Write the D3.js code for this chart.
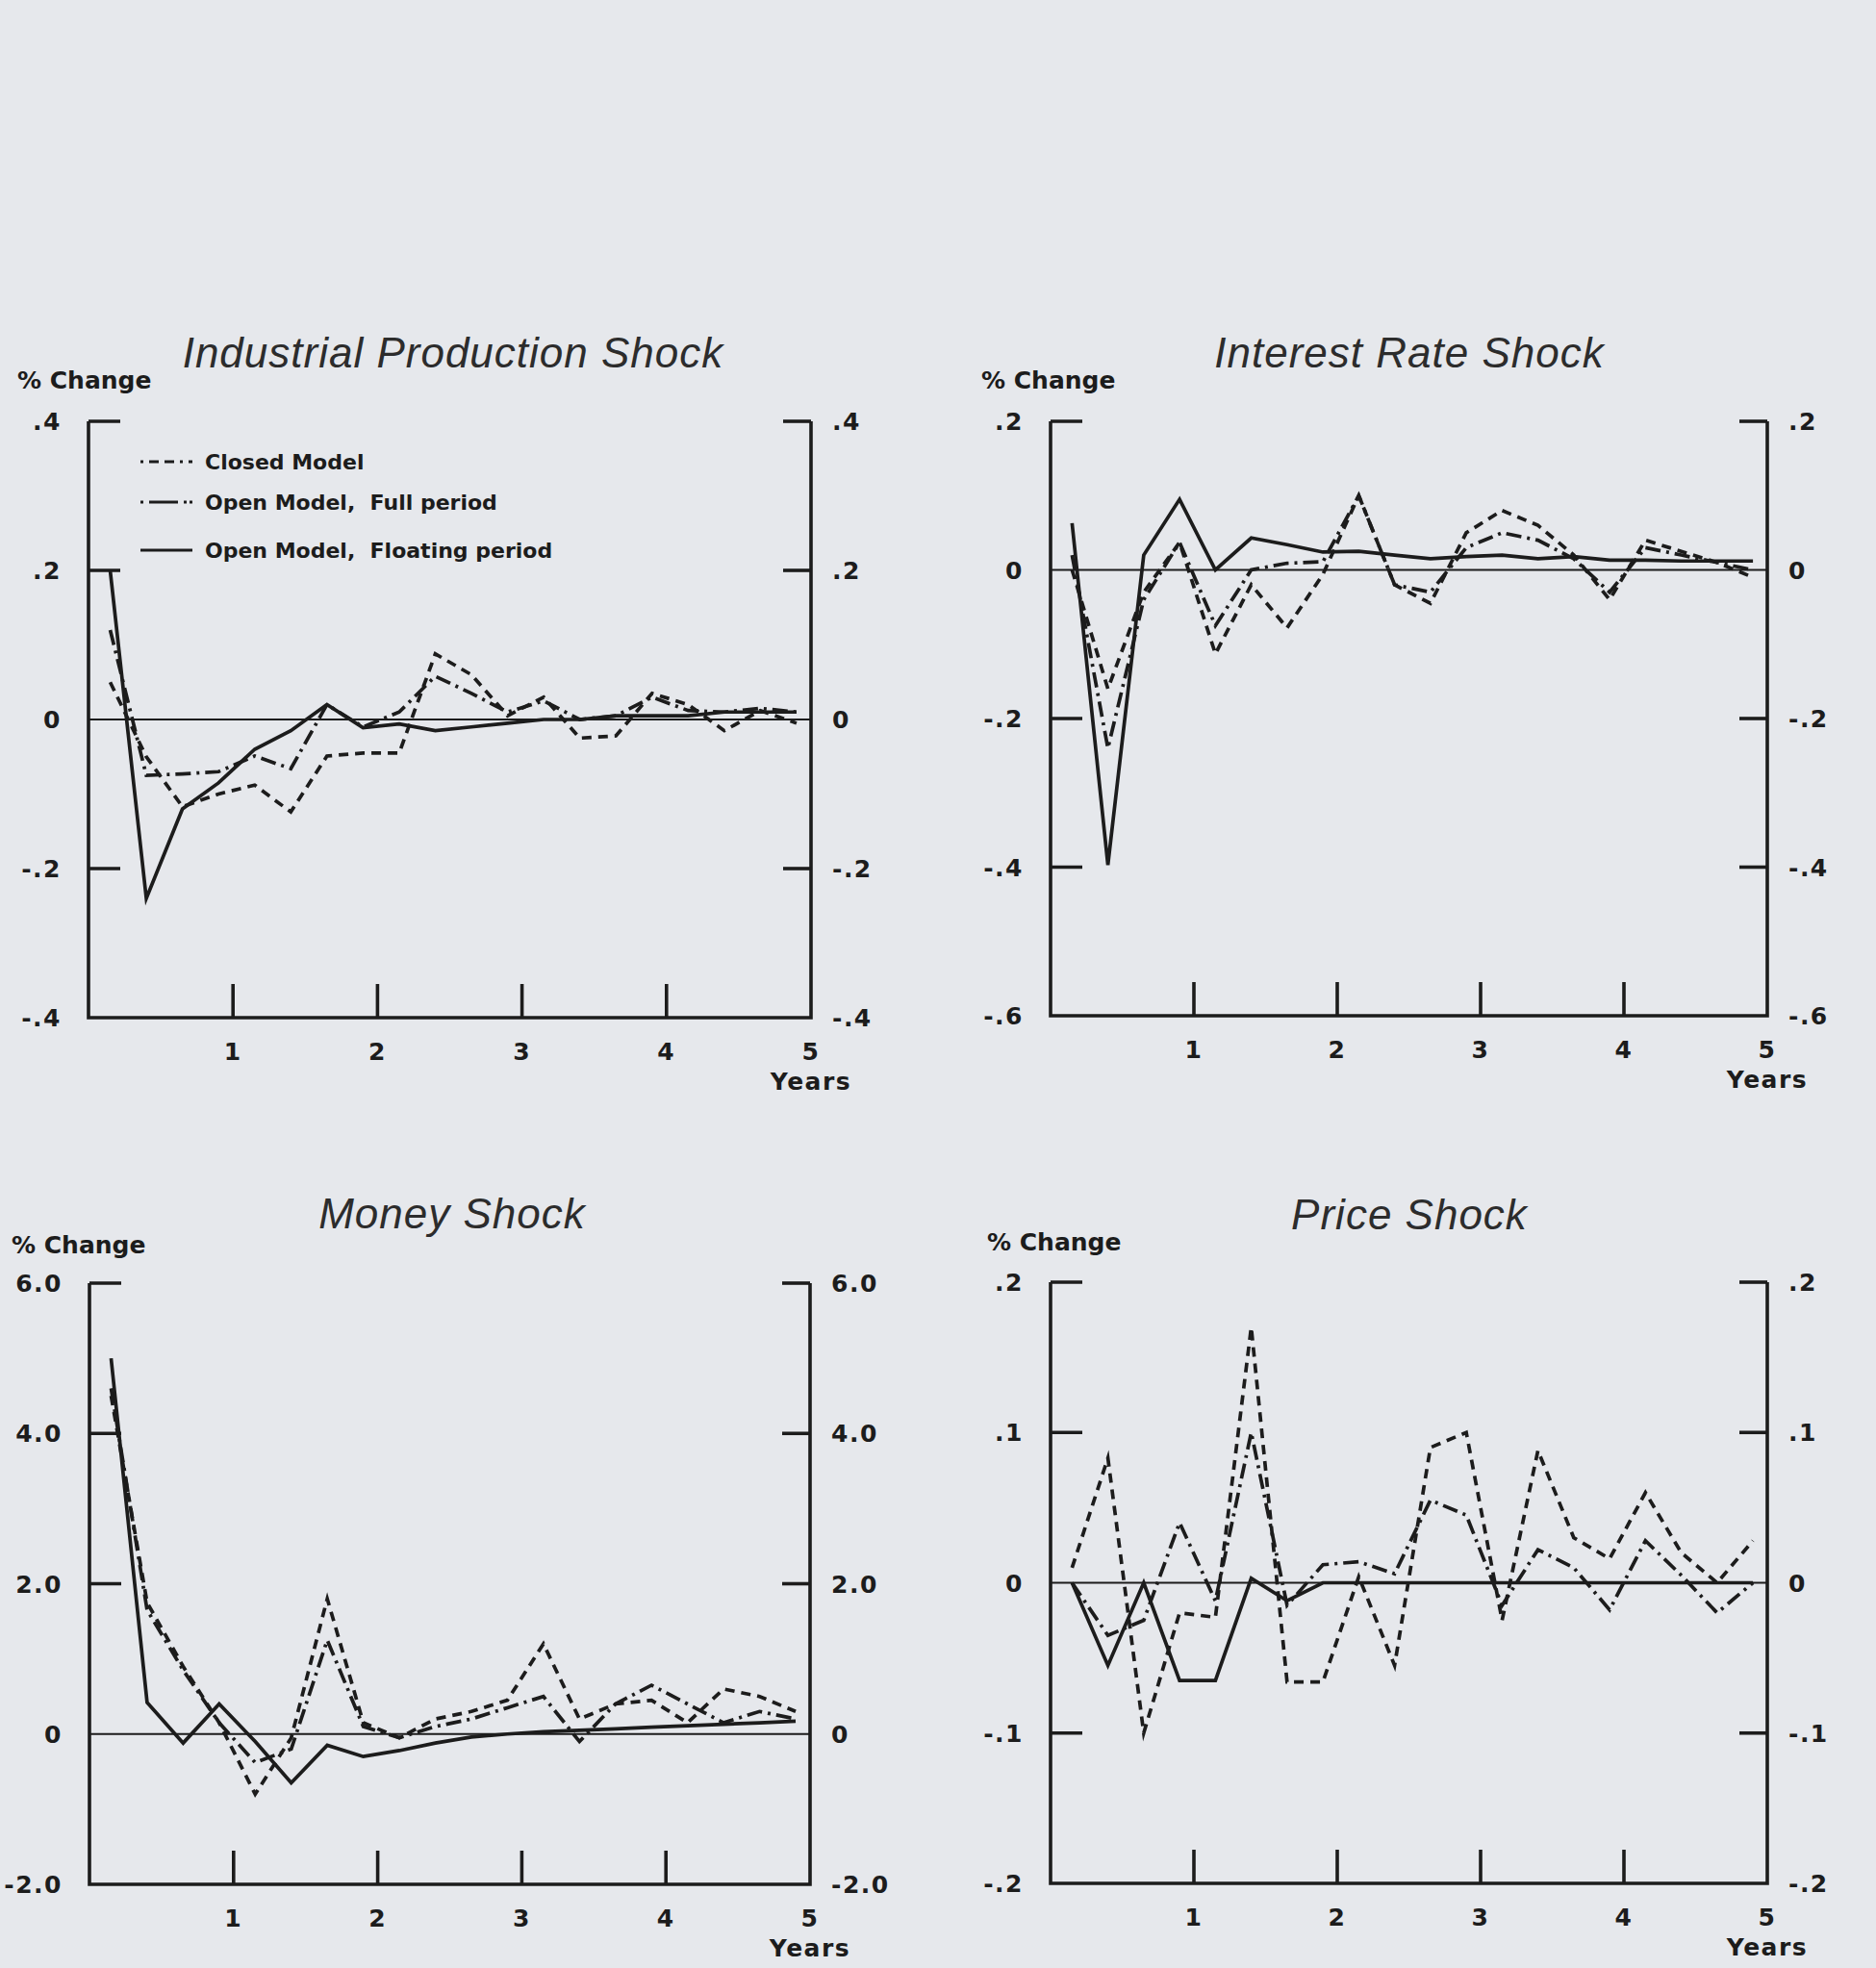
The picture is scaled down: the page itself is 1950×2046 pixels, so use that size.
<!DOCTYPE html>
<html>
<head>
<meta charset="utf-8">
<script src="https://cdn.jsdelivr.net/npm/d3@7"></script>
<style>
  html, body { margin: 0; padding: 0; background: #e6e8ec; }
  svg { display: block; }
  .tick-label { font-family: "DejaVu Sans", sans-serif; font-weight: bold; font-size: 25px; fill: #1c1c1c; letter-spacing: 1.5px; }
  .pct { font-family: "DejaVu Sans", sans-serif; font-weight: bold; font-size: 25px; fill: #1c1c1c; }
  .legend { font-family: "DejaVu Sans", sans-serif; font-weight: bold; font-size: 22px; fill: #1c1c1c; white-space: pre; }
  .title { font-family: "Liberation Sans", Arial, sans-serif; font-style: italic; font-size: 44px; fill: #2c2c2c; letter-spacing: 1px; }
</style>
</head>
<body>
<div id="chart"></div>
<script>
// quarters after the shock, in years
var quarters = [0.15, 0.40, 0.65, 0.90, 1.15, 1.40, 1.65, 1.90, 2.15, 2.40, 2.65, 2.90, 3.15, 3.40, 3.65, 3.90, 4.15, 4.40, 4.65, 4.90];
var yearTicks = [1, 2, 3, 4, 5];
var yearLabels = ["1", "2", "3", "4", "5"];
var legendLabels = ["Closed Model", "Open Model,  Full period", "Open Model,  Floating period"];

// Industrial Production Shock
var ipClosed = [0.05, -0.05, -0.117, -0.10, -0.088, -0.124, -0.049, -0.045, -0.045, 0.088, 0.06, 0.005, 0.03, -0.025, -0.022, 0.035, 0.02, -0.015, 0.012, -0.005];
var ipFull = [0.12, -0.075, -0.073, -0.07, -0.049, -0.066, 0.02, -0.01, 0.01, 0.058, 0.035, 0.01, 0.025, 0.0, 0.005, 0.03, 0.012, 0.01, 0.015, 0.01];
var ipFloat = [0.2, -0.24, -0.12, -0.085, -0.04, -0.015, 0.02, -0.011, -0.006, -0.015, -0.01, -0.005, 0.0, 0.0, 0.005, 0.005, 0.005, 0.01, 0.01, 0.01];
var ipTicks = [0.4, 0.2, 0, -0.2, -0.4];
var ipLabels = [".4", ".2", "0", "-.2", "-.4"];

// Interest Rate Shock
var irClosed = [0.0, -0.16, -0.03, 0.037, -0.113, -0.02, -0.078, -0.006, 0.10, -0.02, -0.045, 0.05, 0.08, 0.06, 0.02, -0.04, 0.04, 0.025, 0.01, -0.01];
var irFull = [0.02, -0.24, -0.04, 0.037, -0.075, 0.0, 0.009, 0.011, 0.10, -0.02, -0.03, 0.03, 0.05, 0.04, 0.015, -0.03, 0.03, 0.02, 0.01, 0.0];
var irFloat = [0.063, -0.397, 0.02, 0.095, 0.0, 0.043, 0.034, 0.024, 0.025, 0.02, 0.015, 0.018, 0.02, 0.015, 0.018, 0.013, 0.013, 0.012, 0.012, 0.012];
var irTicks = [0.2, 0, -0.2, -0.4, -0.6];
var irLabels = [".2", "0", "-.2", "-.4", "-.6"];

// Money Shock
var msClosed = [4.5, 1.75, 0.9, 0.15, -0.8, -0.05, 1.8, 0.15, -0.05, 0.2, 0.3, 0.45, 1.2, 0.2, 0.4, 0.45, 0.15, 0.6, 0.5, 0.3];
var msFull = [4.6, 1.65, 0.85, 0.15, -0.38, -0.2, 1.25, 0.1, -0.05, 0.1, 0.2, 0.35, 0.5, -0.1, 0.4, 0.65, 0.4, 0.15, 0.3, 0.2];
var msFloat = [5.0, 0.42, -0.12, 0.40, -0.10, -0.65, -0.15, -0.30, -0.22, -0.12, -0.04, 0.0, 0.03, 0.05, 0.07, 0.09, 0.11, 0.13, 0.15, 0.17];
var msTicks = [6, 4, 2, 0, -2];
var msLabels = ["6.0", "4.0", "2.0", "0", "-2.0"];

// Price Shock
var psClosed = [0.01, 0.083, -0.10, -0.02, -0.023, 0.17, -0.066, -0.066, 0.004, -0.055, 0.09, 0.10, -0.025, 0.088, 0.03, 0.016, 0.06, 0.02, 0.0, 0.028];
var psFull = [0.0, -0.035, -0.025, 0.04, -0.012, 0.10, -0.015, 0.012, 0.014, 0.006, 0.055, 0.045, -0.015, 0.022, 0.01, -0.018, 0.028, 0.005, -0.02, 0.0];
var psFloat = [0.0, -0.055, 0.0, -0.065, -0.065, 0.003, -0.012, 0.0, 0.0, 0.0, 0.0, 0.0, 0.0, 0.0, 0.0, 0.0, 0.0, 0.0, 0.0, 0.0];
var psTicks = [0.2, 0.1, 0, -0.1, -0.2];
var psLabels = [".2", ".1", "0", "-.1", "-.2"];

var width = 1950, height = 2046;
var dashes = ["10,7", "16,6,3,6", null];
var ink = "#1c1c1c";

var panels = [
  {title: "Industrial Production Shock", tx: 471, ty: 382, px: 18, py: 404, x0: 92, x1: 843, yTop: 438, yBot: 1058,
    ticks: ipTicks, labels: ipLabels, series: [ipClosed, ipFull, ipFloat], legend: true},
  {title: "Interest Rate Shock", tx: 1465, ty: 382, px: 1020, py: 404, x0: 1092, x1: 1837, yTop: 438, yBot: 1056,
    ticks: irTicks, labels: irLabels, series: [irClosed, irFull, irFloat], legend: false},
  {title: "Money Shock", tx: 470, ty: 1277, px: 12, py: 1303, x0: 93, x1: 842, yTop: 1334, yBot: 1959,
    ticks: msTicks, labels: msLabels, series: [msClosed, msFull, msFloat], legend: false},
  {title: "Price Shock", tx: 1465, ty: 1278, px: 1026, py: 1300, x0: 1092, x1: 1837, yTop: 1333, yBot: 1958,
    ticks: psTicks, labels: psLabels, series: [psClosed, psFull, psFloat], legend: false}
];

var svg = d3.select("#chart").append("svg").attr("width", width).attr("height", height);
svg.append("rect").attr("width", width).attr("height", height).attr("fill", "#e6e8ec");

panels.forEach(function(p) {
  var g = svg.append("g");
  var x = d3.scaleLinear().domain([0, 5]).range([p.x0, p.x1]);
  var y = d3.scaleLinear().domain([d3.min(p.ticks), d3.max(p.ticks)]).range([p.yBot, p.yTop]);
  var bottom = d3.min(p.ticks);

  g.append("text").attr("class", "title").attr("x", p.tx).attr("y", p.ty).attr("text-anchor", "middle").text(p.title);
  g.append("text").attr("class", "pct").attr("x", p.px).attr("y", p.py).text("% Change");

  // zero line
  g.append("line").attr("x1", x(0)).attr("x2", x(5)).attr("y1", y(0)).attr("y2", y(0))
    .attr("stroke", ink).attr("stroke-width", 2);

  // series
  var line = d3.line().x(function(d, i) { return x(quarters[i]); }).y(function(d) { return y(d); });
  p.series.forEach(function(s, i) {
    g.append("path").datum(s).attr("d", line).attr("fill", "none").attr("stroke", ink)
      .attr("stroke-width", 3.7).attr("stroke-linejoin", "miter").attr("stroke-miterlimit", 6)
      .attr("stroke-dasharray", dashes[i]);
  });

  // frame: left, bottom, right
  g.append("path").attr("d", "M" + p.x0 + "," + p.yTop + "V" + p.yBot + "H" + p.x1 + "V" + p.yTop)
    .attr("fill", "none").attr("stroke", ink).attr("stroke-width", 3.6);

  // inward value ticks
  var inner = p.ticks.filter(function(v) { return v !== 0 && v !== bottom; });
  g.selectAll("line.lt").data(inner).enter().append("line").attr("class", "lt")
    .attr("x1", p.x0).attr("x2", p.x0 + 33).attr("y1", y).attr("y2", y)
    .attr("stroke", ink).attr("stroke-width", 3.6);
  g.selectAll("line.rt").data(inner).enter().append("line").attr("class", "rt")
    .attr("x1", p.x1 - 29).attr("x2", p.x1).attr("y1", y).attr("y2", y)
    .attr("stroke", ink).attr("stroke-width", 3.6);

  // value labels both sides
  g.selectAll("text.ll").data(p.ticks).enter().append("text").attr("class", "tick-label ll")
    .attr("x", p.x0 - 28).attr("y", y).attr("dy", "0.36em").attr("text-anchor", "end")
    .text(function(d, i) { return p.labels[i]; });
  g.selectAll("text.rl").data(p.ticks).enter().append("text").attr("class", "tick-label rl")
    .attr("x", p.x1 + 22).attr("y", y).attr("dy", "0.36em").attr("text-anchor", "start")
    .text(function(d, i) { return p.labels[i]; });

  // year ticks
  g.selectAll("line.yt").data(yearTicks.slice(0, 4)).enter().append("line").attr("class", "yt")
    .attr("x1", x).attr("x2", x).attr("y1", p.yBot).attr("y2", p.yBot - 35)
    .attr("stroke", ink).attr("stroke-width", 3.6);
  g.selectAll("text.yl").data(yearTicks).enter().append("text").attr("class", "tick-label yl")
    .attr("x", x).attr("y", p.yBot + 44).attr("text-anchor", "middle")
    .text(function(d, i) { return yearLabels[i]; });
  g.append("text").attr("class", "tick-label").attr("x", p.x1).attr("y", p.yBot + 75)
    .attr("text-anchor", "middle").text("Years");

  if (p.legend) {
    var lg = g.append("g");
    legendLabels.forEach(function(name, i) {
      var ly = [480, 522, 572][i];
      lg.append("line").attr("x1", 146).attr("x2", 200).attr("y1", ly).attr("y2", ly)
        .attr("stroke", ink).attr("stroke-width", 3.2).attr("stroke-dasharray", i === 0 ? "3,6,10,6,10,6" : (i === 1 ? "3,6,30,6,3" : null));
      lg.append("text").attr("class", "legend").attr("x", 213).attr("y", ly).attr("dy", "0.35em")
        .attr("xml:space", "preserve").text(name);
    });
  }
});
</script>
</body>
</html>
